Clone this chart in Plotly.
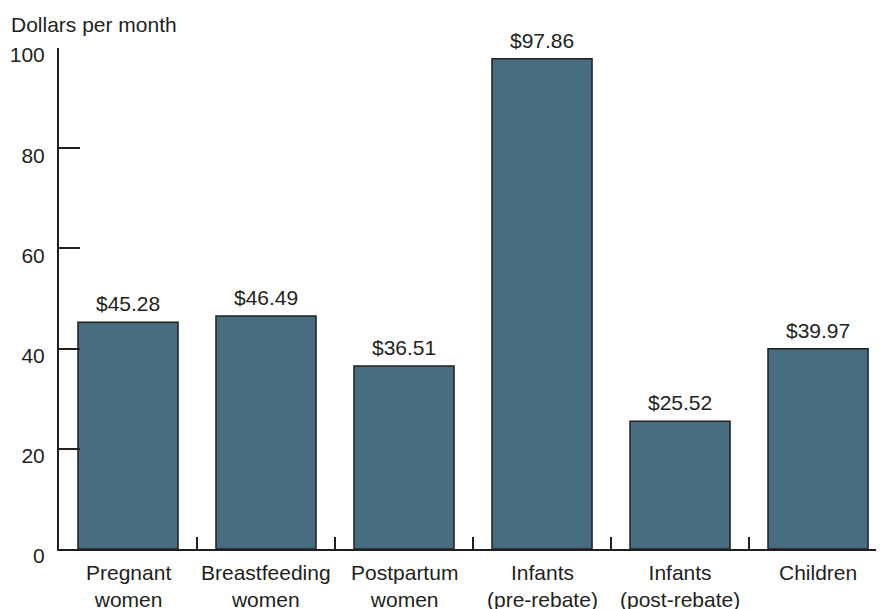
import plotly.graph_objects as go

# Monthly food cost by participant group
categories = ['Pregnant<br>women', 'Breastfeeding<br>women', 'Postpartum<br>women',
              'Infants<br>(pre-rebate)', 'Infants<br>(post-rebate)', 'Children']
costs = [45.28, 46.49, 36.51, 97.86, 25.52, 39.97]
y_ticks = [0, 20, 40, 60, 80, 100]

INK = '#231f20'
BAR = '#476e80'
FONT = 'Liberation Sans, Arial, sans-serif'

fig = go.Figure()
fig.add_trace(go.Bar(
    x=list(range(len(categories))),
    y=costs,
    marker={'color': BAR, 'line': {'color': INK, 'width': 1.5}},
    hoverinfo='skip',
))

# page body adds 8px around the figure, so margins are trimmed by 8
fig.update_layout(
    width=884, height=609,
    margin={'l': 51, 'r': 0, 't': 40, 'b': 68},
    paper_bgcolor='white', plot_bgcolor='white',
    font={'family': FONT, 'size': 21, 'color': INK},
    bargap=0.275,
    showlegend=False,
)

# axis title, horizontal above the y axis
fig.add_annotation(text='Dollars per month', xref='paper', yref='paper',
                   x=0, y=1, xanchor='left', yanchor='middle',
                   xshift=-50, yshift=24, showarrow=False,
                   font={'size': 21, 'color': INK})

# value labels above bars
for i, v in enumerate(costs):
    fig.add_annotation(x=i, y=v, xref='x', yref='y', text=f'${v:.2f}',
                       showarrow=False, yanchor='bottom', yshift=5,
                       font={'size': 21, 'color': INK})

# category labels under the axis
for i, label in enumerate(categories):
    fig.add_annotation(x=i, y=0, xref='x', yref='y', text=label, showarrow=False,
                       yanchor='top', yshift=-10, font={'size': 21, 'color': INK})

# inside ticks between categories
fig.update_xaxes(
    range=[-0.5, 5.536],
    tickmode='array',
    tickvals=[i + 0.5 for i in range(len(categories) - 1)],
    ticktext=['' for _ in range(len(categories) - 1)],
    ticks='inside', ticklen=12, tickwidth=2, tickcolor=INK,
    showline=True, linecolor=INK, linewidth=2,
    showgrid=False, zeroline=False, automargin=False,
)

fig.update_yaxes(
    range=[0, 100],
    tickvals=y_ticks,
    ticks='inside', ticklen=21, tickwidth=2, tickcolor=INK,
    ticklabelstandoff=8, ticklabelshift=7,
    showline=True, linecolor=INK, linewidth=2,
    showgrid=False, zeroline=False, automargin=False,
    tickfont={'size': 21},
)

fig.write_html('out.html')
